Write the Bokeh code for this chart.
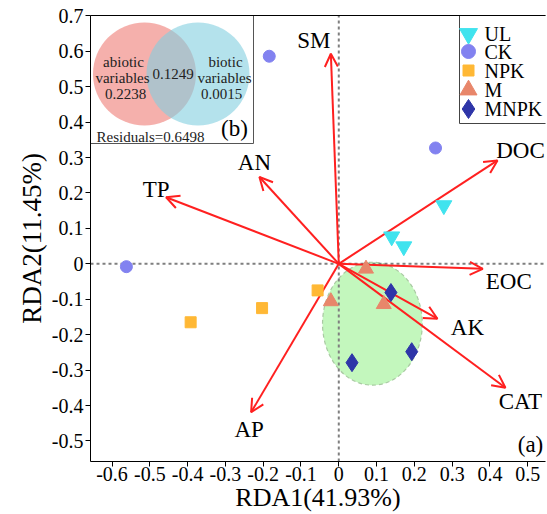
from bokeh.plotting import figure
from bokeh.models import ColumnDataSource, Arrow, OpenHead, LinearAxis, FixedTicker
from bokeh.core.properties import value
from bokeh.embed import file_html
from bokeh.resources import INLINE

# ---------------- data ----------------
env_vars = ["SM", "DOC", "AN", "TP", "EOC", "AK", "CAT", "AP"]
env_rda1 = [-0.021, 0.420, -0.210, -0.457, 0.381, 0.261, 0.441, -0.232]
env_rda2 = [0.593, 0.292, 0.245, 0.188, -0.014, -0.155, -0.350, -0.419]

groups = ["UL", "CK", "NPK", "M", "MNPK"]
ul_rda1 = [0.278, 0.140, 0.172]
ul_rda2 = [0.165, 0.077, 0.049]
ck_rda1 = [-0.184, 0.256, -0.562]
ck_rda2 = [0.586, 0.327, -0.008]
npk_rda1 = [-0.392, -0.203, -0.056]
npk_rda2 = [-0.165, -0.125, -0.075]
m_rda1 = [0.072, -0.021, 0.119]
m_rda2 = [-0.014, -0.106, -0.114]
mnpk_rda1 = [0.138, 0.035, 0.193]
mnpk_rda2 = [-0.081, -0.279, -0.248]

ellipse_center = [0.089, -0.169]
ellipse_size = [0.264, 0.347]

venn_abiotic = "0.2238"
venn_shared = "0.1249"
venn_biotic = "0.0015"
venn_residuals = "0.6498"

x_ticks = [-0.6, -0.5, -0.4, -0.3, -0.2, -0.1, 0.0, 0.1, 0.2, 0.3, 0.4, 0.5]
x_tick_labels = ["-0.6", "-0.5", "-0.4", "-0.3", "-0.2", "-0.1", "0", "0.1", "0.2", "0.3", "0.4", "0.5"]
y_ticks = [-0.5, -0.4, -0.3, -0.2, -0.1, 0.0, 0.1, 0.2, 0.3, 0.4, 0.5, 0.6, 0.7]
y_tick_labels = ["-0.5", "-0.4", "-0.3", "-0.2", "-0.1", "0", "0.1", "0.2", "0.3", "0.4", "0.5", "0.6", "0.7"]
x_title = "RDA1(41.93%)"
y_title = "RDA2(11.45%)"

# ---------------- layout ----------------
W, H = 547, 514
FL, FT, FR, FB = 90, 15, 545, 461
XR = (-0.657, 0.547)
YR = (-0.558, 0.701)
FONT = "Liberation Serif"
COLORS = ["#40E3EE", "#8282F0", "#FFB835", "#E8866A", "#2E35A8"]
MARKERS = ["inverted_triangle", "circle", "square", "triangle", "diamond"]
SIZES = [16, 12, 11, 15, 18]
LEG_SIZES = [18, 14, 11, 17, 19]

def px2x(px):
    return XR[0] + (px - FL) / (FR - FL) * (XR[1] - XR[0])

def px2y(py):
    return YR[1] - (py - FT) / (FB - FT) * (YR[1] - YR[0])

sx = (FR - FL) / (XR[1] - XR[0])
sy = (FB - FT) / (YR[1] - YR[0])

p = figure(width=W, height=H, x_range=XR, y_range=YR, output_backend="svg",
           toolbar_location=None, min_border_left=FL, min_border_right=W - FR,
           min_border_top=FT, min_border_bottom=H - FB)
p.grid.visible = False
p.outline_line_color = None
p.background_fill_color = "white"

axis_cfg = (
    (p.xaxis[0], x_ticks, x_tick_labels, x_title, "20px", 0, "26px", -1),
    (p.yaxis[0], y_ticks, y_tick_labels, y_title, "20px", 2, "27px", 2),
)
for ax, ticks, labels, title, tfs, lstand, afs, stand in axis_cfg:
    ax.ticker = FixedTicker(ticks=ticks)
    ax.major_label_overrides = {t: l for t, l in zip(ticks, labels)}
    ax.minor_tick_line_color = None
    ax.major_tick_out = 5
    ax.major_tick_in = 0
    ax.major_label_text_font = FONT
    ax.major_label_text_font_size = tfs
    ax.major_label_text_color = "black"
    ax.major_label_text_line_height = 1.0
    ax.axis_line_color = "black"
    ax.major_tick_line_color = "black"
    ax.major_label_standoff = lstand
    ax.axis_label = title
    ax.axis_label_text_font = FONT
    ax.axis_label_text_font_size = afs
    ax.axis_label_text_font_style = "normal"
    ax.axis_label_text_color = "black"
    ax.axis_label_text_line_height = 1.0
    ax.axis_label_standoff = stand

top_ax = LinearAxis(ticker=FixedTicker(ticks=[]), major_tick_line_color=None,
                    minor_tick_line_color=None, axis_line_color="black",
                    major_tick_out=0, major_label_standoff=0)
p.add_layout(top_ax, "above")

# ellipse
p.ellipse(x=[ellipse_center[0]], y=[ellipse_center[1]], width=[ellipse_size[0]],
          height=[ellipse_size[1]], fill_color="#BDF6B6", fill_alpha=0.9,
          line_color="#A9C9A2", line_dash="4 3", line_width=1.2)

# zero lines
p.segment(x0=[XR[0], 0], y0=[0, YR[0]], x1=[XR[1], 0], y1=[0, YR[1]],
          line_color="#7f7f7f", line_dash="3 3", line_width=2)

# arrows
asrc = ColumnDataSource(dict(x0=[0] * len(env_vars), y0=[0] * len(env_vars),
                             x=env_rda1, y=env_rda2, name=env_vars,
                             dx=[-17, 23, -5, -10, 26, 30, 15, -2],
                             dy=[-13, -10, -15, -8, 13, 9, 14, 17]))
p.segment(x0="x0", y0="y0", x1="x", y1="y", source=asrc, line_color="#FF2020", line_width=2)
p.add_layout(Arrow(end=OpenHead(size=13, line_color="#FF2020", line_width=2),
                   x_start="x0", y_start="y0", x_end="x", y_end="y", source=asrc,
                   line_alpha=0))
p.text(x="x", y="y", text="name", source=asrc, x_offset="dx", y_offset="dy",
       text_font=value(FONT), text_font_size="23px", text_align="center",
       text_baseline="middle", text_color="black")

# sample points
series = [(ul_rda1, ul_rda2), (ck_rda1, ck_rda2), (npk_rda1, npk_rda2),
          (m_rda1, m_rda2), (mnpk_rda1, mnpk_rda2)]
for (xs, ys), c, mk, s in zip(series, COLORS, MARKERS, SIZES):
    p.scatter(xs, ys, marker=mk, size=s, color=c)

# legend box (drawn by hand to match marker sizes)
p.quad(left=[px2x(459)], right=[px2x(FR + 3)], top=[px2y(FT)], bottom=[px2y(123)],
       fill_color="white", line_color="#444444", line_width=1)
leg_rows = [33.3, 51, 70, 89.5, 108.5]
for g, c, mk, s, ry in zip(groups, COLORS, MARKERS, LEG_SIZES, leg_rows):
    p.scatter([px2x(468)], [px2y(ry)], marker=mk, size=s, color=c)
p.text(x=[px2x(484)] * len(groups), y=[px2y(ry) for ry in leg_rows], text=groups,
       text_font=value(FONT), text_font_size="20px", text_align="left",
       text_baseline="middle", text_color="black")

# inset venn
p.quad(left=[px2x(FL)], right=[px2x(253)], top=[px2y(FT)], bottom=[px2y(143)],
       fill_color="white", line_color="#555555", line_width=1)
r = 51.5
p.ellipse(x=[px2x(144)], y=[px2y(73.5)], width=[2 * r / sx], height=[2 * r / sy],
          fill_color="#F08A84", fill_alpha=0.68, line_color=None)
p.ellipse(x=[px2x(197.5)], y=[px2y(73.5)], width=[2 * r / sx], height=[2 * r / sy],
          fill_color="#82CFE0", fill_alpha=0.6, line_color=None)
vt = dict(
    x=[px2x(123), px2x(122), px2x(125), px2x(172.5), px2x(225), px2x(224), px2x(221)],
    y=[px2y(61), px2y(77), px2y(93), px2y(73.5), px2y(61), px2y(77), px2y(93)],
    t=["abiotic", "variables", venn_abiotic, venn_shared, "biotic", "variables", venn_biotic],
)
p.text(x="x", y="y", text="t", source=ColumnDataSource(vt), text_font=value(FONT),
       text_font_size="15px", text_align="center", text_baseline="middle", text_color="#222222")
p.text(x=[px2x(150)], y=[px2y(136.5)], text=["Residuals=" + venn_residuals],
       text_font=value(FONT), text_font_size="15px", text_align="center",
       text_baseline="middle", text_color="#222222")
p.text(x=[px2x(234)], y=[px2y(128)], text=["(b)"], text_font=value(FONT),
       text_font_size="23px", text_align="center", text_baseline="middle")
p.text(x=[px2x(530)], y=[px2y(444)], text=["(a)"], text_font=value(FONT),
       text_font_size="23px", text_align="center", text_baseline="middle")

open("out.html", "w").write(file_html(p, INLINE))
